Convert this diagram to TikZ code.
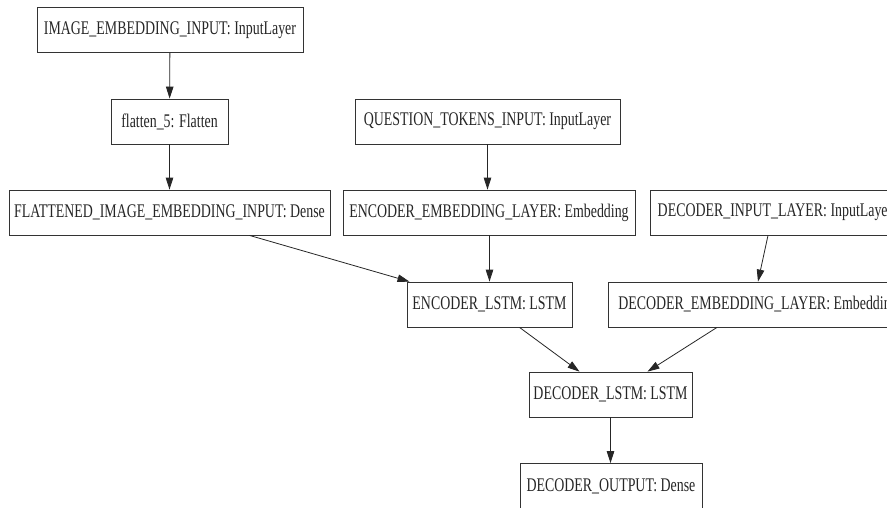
\documentclass[tikz,border=0pt]{standalone}
\usepackage{fontspec}
\setmainfont[FakeStretch=0.72]{Liberation Serif}
\usetikzlibrary{arrows.meta}
\begin{document}
\begin{tikzpicture}[x=1pt,y=-1pt,
  layer/.style={draw=black!80, line width=0.8pt, fill=white, inner sep=0pt,
    minimum height=45pt, text=black!85, font=\fontsize{19.3}{22}\selectfont, anchor=center},
  conn/.style={draw=black!85, line width=0.8pt, -{Triangle[length=12pt,width=7.5pt]}}]
\useasboundingbox (0,0) rectangle (887,507);
\clip (0,0) rectangle (887,507);
\fill[white] (0,0) rectangle (887,507);
\node[layer, minimum width=266pt] (ie) at (170,30) {IMAGE\_EMBEDDING\_INPUT: InputLayer};
\node[layer, minimum width=117pt] (fl) at (169.5,121.5) {flatten\_5: Flatten};
\node[layer, minimum width=265pt] (q) at (487.5,121.5) {QUESTION\_TOKENS\_INPUT: InputLayer};
\node[layer, minimum width=321pt] (fie) at (169.5,212.5) {FLATTENED\_IMAGE\_EMBEDDING\_INPUT: Dense};
\node[layer, minimum width=292pt] (ee) at (489,212.5) {ENCODER\_EMBEDDING\_LAYER: Embedding};
\node[layer, minimum width=250pt] (di) at (775,212.5) {DECODER\_INPUT\_LAYER: InputLayer};
\node[layer, minimum width=300pt] (de) at (758,304.5) {DECODER\_EMBEDDING\_LAYER: Embedding};
\node[layer, minimum width=165pt] (el) at (489.5,304.5) {ENCODER\_LSTM: LSTM};
\node[layer, minimum width=163pt] (dl) at (610.5,394.5) {DECODER\_LSTM: LSTM};
\node[layer, minimum width=182pt] (do) at (611,486) {DECODER\_OUTPUT: Dense};
\draw[conn] (ie) -- (fl);
\draw[conn] (fl) -- (fie);
\draw[conn] (q.south) -- (q.south |- ee.north);
\draw[conn] ([xshift=80pt]fie.south) -- ([xshift=-80pt]el.north);
\draw[conn] (ee.south) -- (ee.south -| el.north) -- (el.north);
\draw[conn] ([xshift=-7pt]di.south) -- ([xshift=0pt]de.north);
\draw[conn] ([xshift=30pt]el.south) -- ([xshift=-31pt]dl.north);
\draw[conn] ([xshift=-41pt]de.south) -- ([xshift=37pt]dl.north);
\draw[conn] (dl) -- (dl.south |- do.north);
\end{tikzpicture}
\end{document}
